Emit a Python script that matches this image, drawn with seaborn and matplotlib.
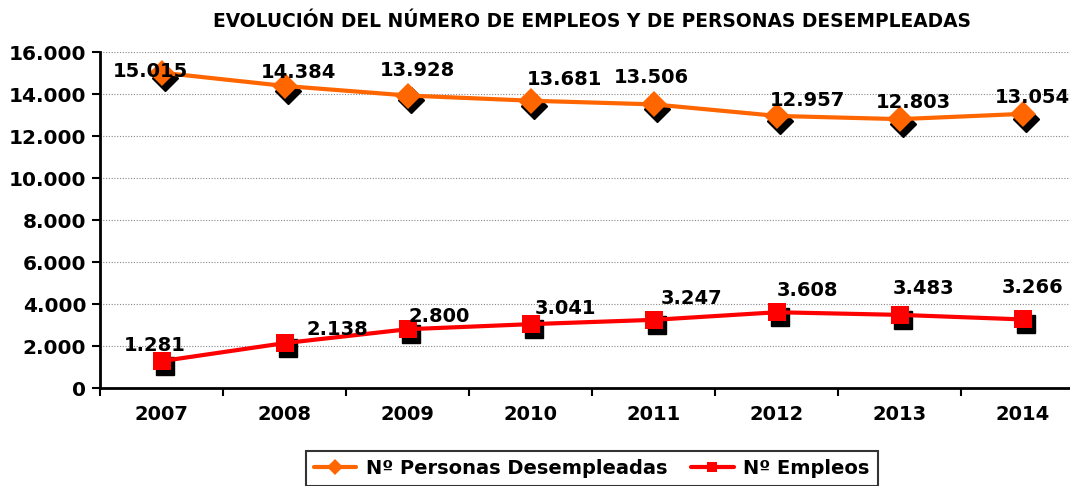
import pandas as pd
import matplotlib.pyplot as plt
import matplotlib.transforms as mtransforms
from matplotlib.ticker import FuncFormatter, MultipleLocator
import seaborn as sns

years = [2007, 2008, 2009, 2010, 2011, 2012, 2013, 2014]
desempleados = [15015, 14384, 13928, 13681, 13506, 12957, 12803, 13054]
empleos = [1281, 2138, 2800, 3041, 3247, 3608, 3483, 3266]

title = "EVOLUCIÓN DEL NÚMERO DE EMPLEOS Y DE PERSONAS DESEMPLEADAS"
label_desemp = "Nº Personas Desempleadas"
label_empleos = "Nº Empleos"

ORANGE = "#FF6600"
RED = "#FF0000"

# label offsets in points (dx, dy), mimicking Excel label placement
off_desemp = [(-8, 1), (10, 10), (7, 18), (24, 15), (-2, 19), (22, 11), (10, 12), (7, 12)]
off_empleos = [(-5, 11), (38, 10), (23, 9), (25, 11), (27, 15), (22, 16), (17, 19), (7, 23)]

sns.set_theme(style="white")
plt.rcParams["font.family"] = ["DejaVu Sans"]
plt.rcParams["font.weight"] = "bold"
plt.rcParams["text.color"] = "black"
plt.rcParams["xtick.color"] = "black"
plt.rcParams["ytick.color"] = "black"

df = pd.DataFrame({"year": years, "desempleados": desempleados, "empleos": empleos})

fig = plt.figure(figsize=(10.7, 4.86), dpi=100)
ax = fig.add_axes([0.0935, 0.2016, 0.92, 0.6914])

shadow = mtransforms.offset_copy(ax.transData, fig=fig, x=2.5, y=-3.5, units="points")
ax.plot(df["year"], df["desempleados"], linestyle="none", marker="D", markersize=13,
        color="black", transform=shadow, zorder=2)
ax.plot(df["year"], df["empleos"], linestyle="none", marker="s", markersize=13,
        color="black", transform=shadow, zorder=2)

sns.lineplot(data=df, x="year", y="desempleados", ax=ax, color=ORANGE, linewidth=3,
             marker="D", markersize=13, markeredgewidth=0, label=label_desemp, zorder=3)
sns.lineplot(data=df, x="year", y="empleos", ax=ax, color=RED, linewidth=3,
             marker="s", markersize=13, markeredgewidth=0, label=label_empleos, zorder=3)

for x, y, (dx, dy) in zip(years, desempleados, off_desemp):
    ax.annotate(f"{y:,}".replace(",", "."), (x, y), xytext=(dx, dy), textcoords="offset points",
                ha="center", va="center", fontsize=14, fontweight="bold", color="black", zorder=5)
for x, y, (dx, dy) in zip(years, empleos, off_empleos):
    ax.annotate(f"{y:,}".replace(",", "."), (x, y), xytext=(dx, dy), textcoords="offset points",
                ha="center", va="center", fontsize=14, fontweight="bold", color="black", zorder=5)

ax.set_xlim(2006.5, 2014.5)
ax.set_ylim(0, 16000)
ax.yaxis.set_major_locator(MultipleLocator(2000))
ax.yaxis.set_major_formatter(FuncFormatter(lambda v, p: f"{int(v):,}".replace(",", ".")))
ax.set_xticks(years)
ax.set_xticks([y + 0.5 for y in years[:-1]] + [2006.5], minor=True)
ax.tick_params(axis="x", which="major", bottom=True, length=0, pad=12, labelsize=14)
ax.tick_params(axis="x", which="minor", bottom=True, length=6, width=1.5, color="black", direction="out")
ax.tick_params(axis="y", left=True, length=6, width=1.5, color="black", direction="out", labelsize=14.5, pad=4)
for lab in ax.get_xticklabels() + ax.get_yticklabels():
    lab.set_fontweight("bold")
ax.set_xlabel("")
ax.set_ylabel("")
ax.grid(axis="y", color="#888888", linestyle=(0, (1, 1.5)), linewidth=0.8)
for side in ["top", "right"]:
    ax.spines[side].set_visible(False)
for side in ["left", "bottom"]:
    ax.spines[side].set_color("black")
    ax.spines[side].set_linewidth(2)

fig.text(0.553, 0.955, title, ha="center", va="center", fontsize=13.4, fontweight="bold")

handles, labels = ax.get_legend_handles_labels()
leg = fig.legend(handles, labels, loc="upper center", bbox_to_anchor=(0.553, 0.092), ncol=2,
                 frameon=True, fancybox=False, edgecolor="black", fontsize=14,
                 handlelength=2.2, handletextpad=0.5, columnspacing=1.2, borderpad=0.4,
                 markerscale=0.6)
leg.get_frame().set_linewidth(1.5)
for t in leg.get_texts():
    t.set_fontweight("bold")
    t.set_color("black")
ax.get_legend().remove()

fig.savefig("out.png", dpi=100)
